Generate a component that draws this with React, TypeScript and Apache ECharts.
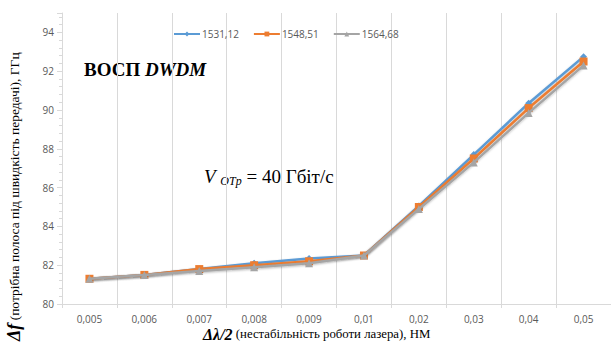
import React, { useEffect, useRef } from "react";
import * as echarts from "echarts";

const categories = ["0,005", "0,006", "0,007", "0,008", "0,009", "0,01", "0,02", "0,03", "0,04", "0,05"];
const seriesNames = ["1531,12", "1548,51", "1564,68"];
const s1531 = [81.3, 81.5, 81.8, 82.1, 82.35, 82.5, 85.05, 87.7, 90.35, 92.75];
const s1548 = [81.3, 81.5, 81.8, 82.0, 82.2, 82.5, 85.0, 87.5, 90.1, 92.5];
const s1564 = [81.3, 81.5, 81.7, 81.9, 82.1, 82.5, 84.9, 87.3, 89.85, 92.3];
const colors = ["#5B9BD5", "#ED7D31", "#A5A5A5"];
const symbols = ["diamond", "rect", "triangle"];

const SERIF = "Liberation Serif";

export default function App() {
  const ref = useRef<HTMLDivElement>(null);
  useEffect(() => {
    if (!ref.current) return;
    const chart = echarts.init(ref.current, undefined, { renderer: "svg" });
    const data = [s1531, s1548, s1564];
    chart.setOption({
      animation: false,
      backgroundColor: "#fff",
      grid: { left: 62, right: 0, top: 13, bottom: 43 },
      legend: {
        top: 24,
        left: 168,
        itemGap: 14,
        itemWidth: 26,
        itemHeight: 6,
        textStyle: { fontFamily: "Open Sans", fontSize: 10, color: "#595959", padding: [0, 0, 0, -3] },
        data: seriesNames,
      },
      xAxis: {
        type: "category",
        data: categories,
        boundaryGap: true,
        axisLine: { lineStyle: { color: "#D9D9D9" } },
        axisTick: { show: true, length: 4, lineStyle: { color: "#D9D9D9" } },
        axisLabel: { fontFamily: "Open Sans", fontSize: 10, color: "#595959", margin: 10 },
        splitLine: { show: true, lineStyle: { color: "#D9D9D9" } },
      },
      yAxis: {
        type: "value",
        min: 80,
        max: 95,
        interval: 2,
        axisLine: { show: true, lineStyle: { color: "#D9D9D9" } },
        axisTick: { show: true, length: 5, lineStyle: { color: "#D9D9D9" } },
        minorTick: { show: true, splitNumber: 5, length: 3, lineStyle: { color: "#D9D9D9" } },
        axisLabel: {
          fontFamily: "Open Sans",
          fontSize: 10,
          color: "#595959",
          margin: 8,
          formatter: (v: number) => (v === 95 ? "" : String(v)),
        },
        splitLine: { show: false },
      },
      series: seriesNames.map((n, i) => ({
        name: n,
        type: "line",
        data: data[i],
        symbol: symbols[i],
        symbolSize: i === 0 ? 7 : 8,
        color: colors[i],
        lineStyle: { width: 2.5, color: colors[i], shadowColor: "rgba(0,0,0,0.25)", shadowBlur: 2, shadowOffsetY: 1 },
        itemStyle: { color: colors[i] },
        z: 2 + i,
      })),
      graphic: [
        {
          type: "text",
          left: 84,
          top: 60,
          style: {
            text: "{b|ВОСП }{bi|DWDM}",
            rich: {
              b: { fontFamily: SERIF, fontWeight: "bold", fontSize: 19, fill: "#000" },
              bi: { fontFamily: SERIF, fontWeight: "bold", fontStyle: "italic", fontSize: 19, fill: "#000" },
            },
          },
        },
        {
          type: "text",
          left: 204,
          top: 167,
          style: {
            text: "{v|V }{s|OTp}{n| = 40 Гбіт/с}",
            rich: {
              v: { fontFamily: SERIF, fontStyle: "italic", fontSize: 19, fill: "#000" },
              s: { fontFamily: SERIF, fontStyle: "italic", fontSize: 12, fill: "#000", padding: [8, 0, 0, 0] },
              n: { fontFamily: SERIF, fontSize: 19, fill: "#000" },
            },
          },
        },
        {
          type: "text",
          left: 203,
          top: 326,
          style: {
            text: "{a|Δλ/2}{b| (нестабільність роботи лазера), НМ}",
            rich: {
              a: { fontFamily: SERIF, fontWeight: "bold", fontStyle: "italic", fontSize: 16, fill: "#000" },
              b: { fontFamily: SERIF, fontSize: 12.8, fill: "#000" },
            },
          },
        },
        {
          type: "text",
          x: 5,
          y: 341,
          rotation: Math.PI / 2,
          style: {
            text: "{a|Δf}{b| (потрібна полоса під швидкість передачі), ГГц}",
            rich: {
              a: { fontFamily: SERIF, fontWeight: "bold", fontStyle: "italic", fontSize: 18, fill: "#000" },
              b: { fontFamily: SERIF, fontSize: 13.5, fill: "#000" },
            },
          },
        },
      ],
    });
    return () => chart.dispose();
  }, []);
  return <div ref={ref} style={{ width: 611, height: 347, position: "absolute", left: 0, top: 0 }} />;
}
